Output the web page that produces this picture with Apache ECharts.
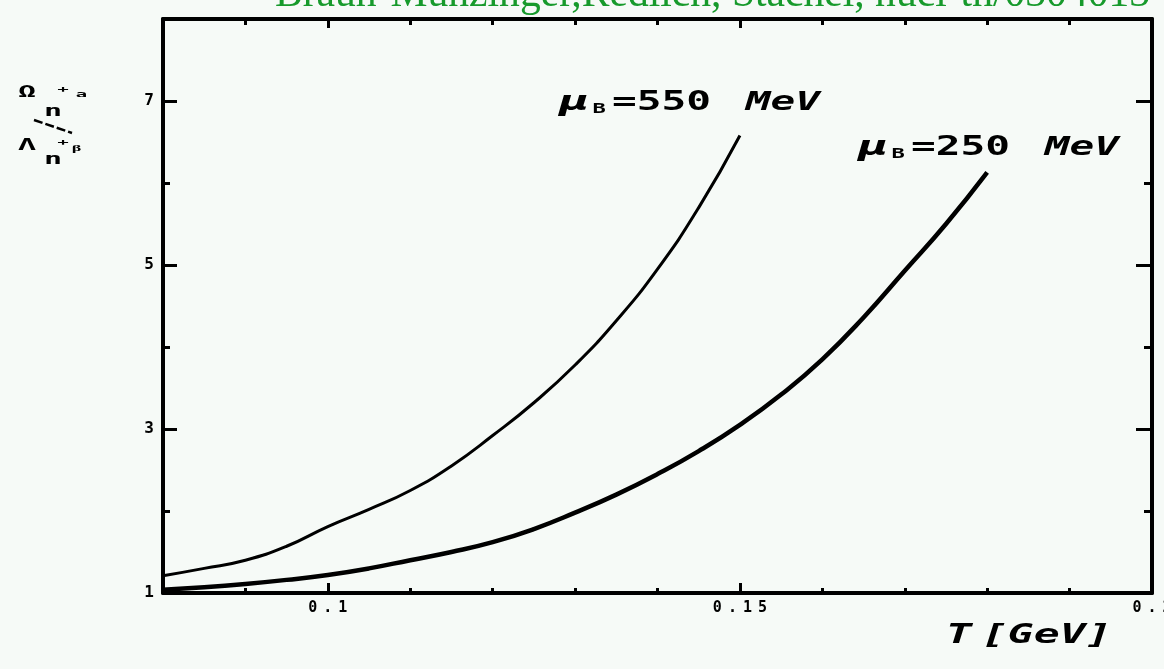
<!DOCTYPE html>
<html>
<head>
<meta charset="utf-8">
<script src="https://cdn.jsdelivr.net/npm/echarts@6/dist/echarts.min.js"></script>
<style>
  html, body { margin: 0; padding: 0; background: #f6faf7; }
  #chart { width: 1164px; height: 669px; }
</style>
</head>
<body>
<div id="chart"></div>
<script>
// Temperature grid [GeV]
const temperatures = [0.080, 0.085, 0.090, 0.095, 0.100, 0.105, 0.110, 0.115, 0.120,
  0.125, 0.130, 0.135, 0.140, 0.145, 0.150, 0.155, 0.160, 0.165, 0.170, 0.175, 0.180];

// Ratio for mu_B = 550 MeV (computed up to T = 0.15 GeV)
const ratioMu550 = [1.21, 1.30, 1.40, 1.57, 1.81, 2.02, 2.25, 2.55, 2.92,
  3.32, 3.78, 4.32, 4.95, 5.70, 6.58];

// Ratio for mu_B = 250 MeV (computed up to T = 0.18 GeV)
const ratioMu250 = [1.04, 1.07, 1.11, 1.16, 1.22, 1.30, 1.40, 1.50, 1.62,
  1.78, 1.98, 2.20, 2.45, 2.73, 3.05, 3.42, 3.85, 4.36, 4.93, 5.50, 6.13];

// Axis ticks and labels
const xMajorTicks = [0.1, 0.15];
const xMinorTicks = [0.09, 0.11, 0.12, 0.13, 0.14, 0.16, 0.17, 0.18, 0.19];
const xTickLabels = [0.1, 0.15, 0.2];
const yMajorTicks = [3, 5, 7];
const yMinorTicks = [2, 4, 6];
const yTickLabels = [1, 3, 5, 7];

const curveLabel550 = '550';
const curveLabel250 = '250';

const pairs = (xs, ys) => ys.map((y, i) => [xs[i], y]);

const INK = '#000';
const MONO = '"DejaVu Sans Mono", monospace';

// spread each character of a tick label so the digits sit wide apart
const spread = s => s.split('').map(c => '{c|' + c + '}').join('');

function xAxisDef(position, ticks, len, showLine, showLabel) {
  return {
    type: 'value', position: position, min: 0.08, max: 0.2,
    axisLine: { show: showLine, onZero: false, lineStyle: { color: INK, width: 4 } },
    axisTick: { show: true, inside: true, length: len, customValues: ticks,
      lineStyle: { color: INK, width: 3 } },
    axisLabel: { show: showLabel, customValues: xTickLabels, margin: 8,
      fontSize: 15, fontWeight: 'bold', fontFamily: MONO, color: INK,
      formatter: v => spread(String(+v.toFixed(2))),
      rich: { c: { color: INK, fontFamily: MONO, fontWeight: 'bold', fontSize: 15,
        padding: [0, 3, 0, 3] } } },
    splitLine: { show: false }
  };
}

function yAxisDef(position, ticks, len, showLine, showLabel) {
  return {
    type: 'value', position: position, min: 1, max: 8,
    axisLine: { show: showLine, onZero: false, lineStyle: { color: INK, width: 4 } },
    axisTick: { show: true, inside: true, length: len, customValues: ticks,
      lineStyle: { color: INK, width: 3 } },
    axisLabel: { show: showLabel, customValues: yTickLabels, margin: 9,
      color: INK, fontFamily: MONO, fontWeight: 'bold', fontSize: 16 },
    splitLine: { show: false }
  };
}

const chart = echarts.init(document.getElementById('chart'));

const labelRich = {
  mu: { fontFamily: '"DejaVu Sans", sans-serif', fontStyle: 'italic', fontWeight: 'bold',
    fontSize: 26, color: INK },
  sub: { fontFamily: MONO, fontWeight: 'bold', fontSize: 14, color: INK,
    verticalAlign: 'bottom', padding: [12, 4, 0, 2] },
  num: { fontFamily: MONO, fontWeight: 'bold', fontSize: 26, color: INK },
  unit: { fontFamily: MONO, fontStyle: 'italic', fontWeight: 'bold', fontSize: 26,
    color: INK, padding: [0, 0, 0, 22] }
};

function curveText(x, y, value) {
  return {
    type: 'text', x: x, y: y, z: 10, scaleX: 1.58,
    style: {
      text: '{mu|μ}{sub|B}{num|=' + value + '}{unit|MeV}',
      rich: labelRich, textVerticalAlign: 'middle'
    }
  };
}

const yLabelFont = 'bold 15px "DejaVu Sans Mono", monospace';
function yLabelPart(x, y, text) {
  return { type: 'text', x: x, y: y, scaleX: 2,
    style: { text: text, font: yLabelFont, fill: INK, textVerticalAlign: 'middle' } };
}

const axisNameRich = {
  t: { fontFamily: MONO, fontStyle: 'italic', fontWeight: 'bold', fontSize: 27, color: INK },
  u: { fontFamily: MONO, fontStyle: 'italic', fontWeight: 'bold', fontSize: 27, color: INK,
    padding: [0, 0, 0, 6] }
};

chart.setOption({
  backgroundColor: '#f6faf7',
  animation: false,
  grid: { left: 163, right: 12, top: 19, bottom: 76, containLabel: false,
    outerBoundsMode: 'none' },
  xAxis: [
    xAxisDef('bottom', xMajorTicks, 10, true, true),
    xAxisDef('bottom', xMinorTicks, 5, false, false),
    xAxisDef('top', xMajorTicks, 9, true, false),
    xAxisDef('top', xMinorTicks, 6, false, false)
  ],
  yAxis: [
    yAxisDef('left', yMajorTicks, 14, true, true),
    yAxisDef('left', yMinorTicks, 7, false, false),
    yAxisDef('right', yMajorTicks, 16, true, false),
    yAxisDef('right', yMinorTicks, 8, false, false)
  ],
  series: [
    {
      name: 'mu_B = 550 MeV', type: 'line', smooth: true, showSymbol: false,
      xAxisIndex: 0, yAxisIndex: 0,
      lineStyle: { color: INK, width: 3 },
      data: pairs(temperatures, ratioMu550)
    },
    {
      name: 'mu_B = 250 MeV', type: 'line', smooth: true, showSymbol: false,
      xAxisIndex: 0, yAxisIndex: 0,
      lineStyle: { color: INK, width: 4.5 },
      data: pairs(temperatures, ratioMu250)
    }
  ],
  graphic: [
    {
      type: 'text', x: 275, y: -26, z: 10,
      style: {
        text: 'Braun-Munzinger,Redlich, Stachel, nucl-th/0304013',
        font: '41.6px "Liberation Serif", serif', fill: '#179a2c'
      }
    },
    curveText(559, 103, curveLabel550),
    curveText(858, 148, curveLabel250),
    {
      type: 'text', x: 946, y: 636, z: 10, scaleX: 1.6,
      style: { text: '{t|T}{u|[GeV]}', rich: axisNameRich, textVerticalAlign: 'middle' }
    },
    // stacked ratio label of the vertical axis
    yLabelPart(18, 93, 'Ω ⁺ₐ'),
    yLabelPart(44, 112, 'n'),
    { type: 'line', shape: { x1: 34, y1: 120, x2: 72, y2: 133 },
      style: { stroke: INK, lineWidth: 2.5, lineDash: [9, 3] } },
    yLabelPart(18, 146, 'Λ ⁺ᵦ'),
    yLabelPart(44, 160, 'n')
  ]
});
</script>
</body>
</html>
